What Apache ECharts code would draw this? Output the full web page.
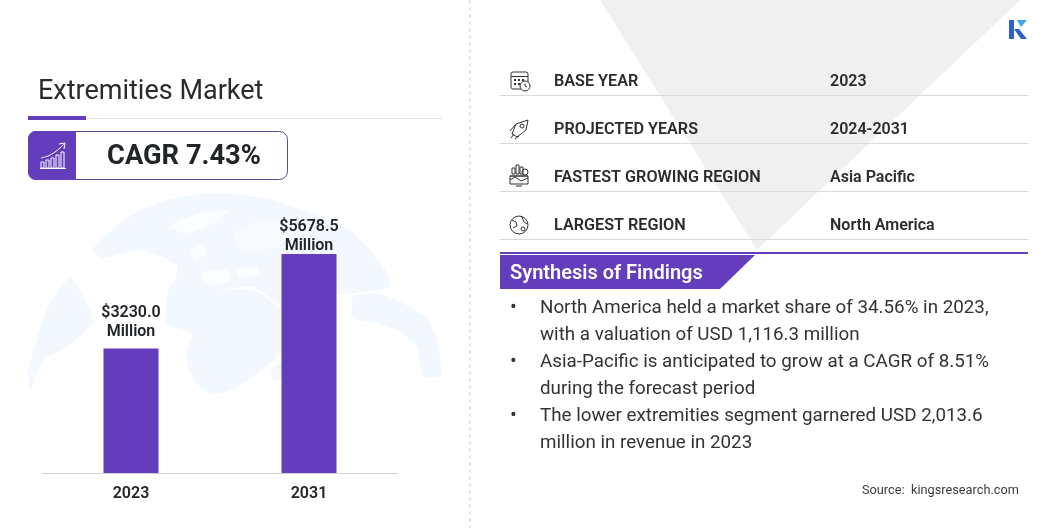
<!DOCTYPE html>
<html><head><meta charset="utf-8">
<style>html,body{margin:0;padding:0;background:#fff}#c{width:1056px;height:528px}</style>
<script src="https://cdn.jsdelivr.net/npm/echarts@6/dist/echarts.min.js"></script>
</head><body><div id="c"></div>
<script>
const categories = ['2023', '2031'];
const values = [3230.0, 5678.5];
const labelGaps = [7, -2];
const unit = 'Million';
const chartTitle = 'Extremities Market';
const cagrText = 'CAGR 7.43%';
const infoLabels = ['BASE YEAR', 'PROJECTED YEARS', 'FASTEST GROWING REGION', 'LARGEST REGION'];
const infoValues = ['2023', '2024-2031', 'Asia Pacific', 'North America'];
const findingsTitle = 'Synthesis of Findings';
const findings = [
  ['North America held a market share of 34.56% in 2023,', 'with a valuation of USD 1,116.3 million'],
  ['Asia-Pacific is anticipated to grow at a CAGR of 8.51%', 'during the forecast period'],
  ['The lower extremities segment garnered USD 2,013.6', 'million in revenue in 2023']
];
const sourceText = 'Source:  kingsresearch.com';

const PURPLE = '#633dbb', INK = '#212529', FONT = 'Roboto';
const g = [];
const txt = (x, y, text, size, weight, fill, align) => g.push({type:'text', x, y, z:5, style:{text, fontFamily:FONT, fontSize:size, fontWeight:weight, fill:fill||INK, align:align||'left', verticalAlign:'middle'}});
const poly = (points, fill, z, smooth) => g.push({type:'polygon', z:z||1, shape:{points, smooth:smooth||0}, style:{fill}});
const rect = (x,y,width,height,fill,r) => g.push({type:'rect', z:3, shape:{x,y,width,height,r:r||0}, style:{fill}});
const line = (x1,y1,x2,y2,stroke,lw,dash) => g.push({type:'line', z:3, shape:{x1,y1,x2,y2}, style:{stroke, lineWidth:lw||1, lineDash:dash}});
const sl = (pts,stroke,lw) => g.push({type:'polyline', z:4, shape:{points:pts}, style:{stroke:stroke||'#333', lineWidth:lw||1, fill:null}});
const sr = (x,y,w,h,stroke,r,fill) => g.push({type:'rect', z:4, shape:{x,y,width:w,height:h,r:r||0}, style:{stroke:stroke||'#333', lineWidth:1, fill:fill||null}});
const sc = (cx,cy,r,stroke,fill) => g.push({type:'circle', z:4, shape:{cx,cy,r}, style:{stroke:stroke||'#333', lineWidth:1, fill:fill||null}});

// pale globe backdrop (zoom-space coordinates / 3)
const GL = '#f2f8fd';
const gp = (pts,c,z) => poly(pts.map(p=>[p[0]/3, 190+p[1]/3]), c||GL, z||1, 0.2);
gp([[92,605],[85,540],[110,450],[150,340],[210,262],[240,300],[278,395],[210,465],[125,515]]);
gp([[280,175],[400,70],[520,25],[650,8],[800,25],[950,75],[1060,130],[1150,230],[1170,290],[1060,310],[960,320],[900,385],[830,340],[760,290],[650,300],[530,265],[530,225],[420,180],[300,205]]);
gp([[530,265],[650,300],[760,300],[830,345],[895,395],[860,470],[810,520],[760,560],[680,605],[620,605],[575,560],[560,490],[575,430],[500,400],[505,300]]);
gp([[1060,320],[1130,310],[1200,335],[1280,385],[1310,450],[1322,555],[1270,560],[1250,470],[1190,420],[1110,395],[1060,385]]);
gp([[810,545],[840,520],[860,525],[845,565],[820,570]]);
// white land details inside the pale shapes
gp([[510,110],[600,70],[690,60],[640,100],[560,130]],'#fbfdfe',2);
gp([[570,190],[600,165],[620,185],[590,210]],'#fbfdfe',2);
gp([[710,240],[770,232],[780,255],[720,262]],'#fbfdfe',2);
gp([[600,250],[680,240],[690,275],[620,285]],'#fbfdfe',2);
gp([[700,130],[800,90],[900,110],[830,170],[730,180]],'#f8fbfe',2);

// page backdrop
poly([[600,0],[1020,0],[757,250]], '#f0f0f0', 0);
line(470,0,470,528,'#cfcfcf',1,[4,3]);

// title block
txt(38, 92, chartTitle, 27, 400, '#2b2b2b');
line(28,118.5,442,118.5,'#e6e6e8',1);
rect(28,116,58,4,PURPLE);
g.push({type:'rect', z:2, shape:{x:28.5,y:131.5,width:259,height:48,r:8}, style:{fill:'#fff', stroke:'#5a4a96', lineWidth:1}});
g.push({type:'rect', z:3, shape:{x:28,y:131,width:48,height:49,r:[8,0,0,8]}, style:{fill:PURPLE}});
txt(184, 157, cagrText, 27.3, 700, INK, 'center');
// growth icon
['41','46','51','56','61'].forEach((x,i)=>{const h=[6,8,10,13,16][i]; sr(+x,168-h,3,h,'#fff');});
line(40,168.5,66,168.5,'#fff',1);
g.push({type:'polyline', z:4, shape:{points:[[41,158],[48,156],[55,152],[60,148],[64,144]], smooth:0.4}, style:{stroke:'#fff',lineWidth:1,fill:null}});
sl([[59,144],[65,143],[64,149]],'#fff');

// info rows
infoLabels.forEach((t,i)=>{
  const y = 82 + 48*i;
  txt(554, y, t, 16.2, 600, '#2b2b2b');
  txt(830, y, infoValues[i], 16, 600, '#2b2b2b');
  line(500, y+13.5, 1028, y+13.5, '#d9d9d9', 1);
});
// icons
sr(511,72,17,17,'#333',2); line(511,76.5,528,76.5,'#333');
[514,518,522].forEach(x=>[79,83].forEach(y=>rect(x,y,2,2,'#333')));
sc(525,86,5,'#333','#fff'); sl([[525,83.5],[525,86],[527,87]]);
sl([[512,134],[516,124],[528,120],[526,130],[517,137],[512,134]]); sc(522,126,2); sl([[510,131],[515,125]]); sl([[515,139],[519,136]]); sl([[511,138],[514,134]]);
[512,516,520].forEach((x,i)=>sr(x,172-[4,7,5][i],3,[4,7,5][i]+2)); sc(525,172,3);
line(510,176,528,176,'#333'); sl([[510,180],[515,177],[521,181],[528,178]]); sr(510,176,18,8); line(516,186,522,186,'#333');
sc(519,225,9); sl([[512,220],[516,222],[517,226],[513,228]]); sl([[522,217],[524,222],[527,224]]); sc(523,229,2);

// findings
line(500,253,1028,253,PURPLE,2);
poly([[500,255],[755,255],[720,289],[500,289]], PURPLE, 3);
txt(510, 274, findingsTitle, 20, 600, '#fff');
let ly = 308;
findings.forEach(lines=>{
  txt(510, ly, '•', 20, 400, '#333');
  lines.forEach(l=>{ txt(540, ly, l, 18.8, 400, '#333'); ly += 27; });
});
txt(862, 491, sourceText, 12.75, 400, '#3c3c3c');

// logo
poly([[1009,20],[1014,20],[1014,39],[1009,39]], '#2f5fd0', 4);
poly([[1014,29],[1019,29],[1027,39],[1021,39]], '#2f5fd0', 4);
poly([[1017,20],[1027,20],[1021,27]], '#3aa5e8', 4);

const chart = echarts.init(document.getElementById('c'), null, {renderer:'canvas'});
chart.setOption({
  animation:false,
  backgroundColor:'#fff',
  grid:{left:42, width:356, top:241.6, height:231.4, containLabel:false},
  xAxis:{type:'category', data:categories, axisTick:{show:false},
    axisLine:{lineStyle:{color:'#cfd2d6', width:1}},
    axisLabel:{fontFamily:FONT, fontSize:16, fontWeight:600, color:INK, margin:13}},
  yAxis:{type:'value', min:0, max:6000, show:false, splitLine:{show:false}},
  graphic:{elements:g},
  series:[{type:'bar', barWidth:55, z:3, itemStyle:{color:PURPLE},
    data:values.map((value,i)=>({value, label:{distance:labelGaps[i]}})),
    label:{show:true, position:'top', fontFamily:FONT, fontSize:16, fontWeight:600, lineHeight:19, color:INK,
      formatter:p=>'$'+p.value.toFixed(1)+'\n'+unit}}]
});
</script></body></html>
